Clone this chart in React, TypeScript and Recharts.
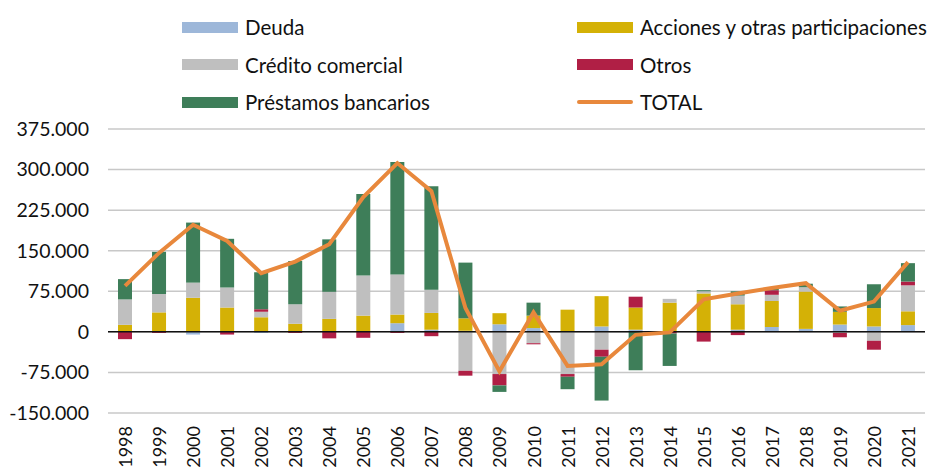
import React from 'react';
import {
  ComposedChart,
  Bar,
  Line,
  XAxis,
  YAxis,
  CartesianGrid,
  ReferenceLine,
  Legend,
} from 'recharts';

// Valores en miles
const years = [
  '1998', '1999', '2000', '2001', '2002', '2003', '2004', '2005', '2006', '2007', '2008', '2009',
  '2010', '2011', '2012', '2013', '2014', '2015', '2016', '2017', '2018', '2019', '2020', '2021',
];
const deuda = [0, 0, -5, 0, -2, 0, 0, 1, 16, 4, 2, 14, 7, 1, 10, 4, 1, 1, 4, 9, 5.5, 13.5, 10, 12.5];
const acciones = [13, 36, 63, 45, 27, 15, 24, 29, 16, 31, 23, 20.5, 23, 40, 56, 41, 53, 70, 47, 48, 69, 23.5, 34, 25.5];
const credito = [47, 34, 28, 37, 10, 36, 50, 74, 74, 43, -72, -78, -21, -78, -33, 0, 7, 4, 16, 11.5, 8, -2, -16.5, 48];
const otros = [-13.5, -2, 0, -5, 5, -2, -12, -11, -2, -8, -9, -21, -2, -5, -13, 20, -3, -18, -6, 8.5, 0, -8, -16.5, 7];
const prestamos = [37.5, 78, 111, 90, 68, 80, 97, 151, 208, 191, 103, -12, 24, -23, -81, -71, -60, 2, 8, 3, 6.5, 10, 44, 34];
const total = [85, 146, 198, 168, 108.5, 130, 162, 249, 312, 260, 44, -73, 36, -63, -60, -5.5, -1, 60, 71, 81, 90, 39, 56, 129];
const yTicks = [-150, -75, 0, 75, 150, 225, 300, 375];

const COLORS = {
  deuda: '#9DB7D9',
  acciones: '#D4B106',
  credito: '#BFBFBF',
  otros: '#B01F45',
  prestamos: '#3E7E59',
  total: '#E8883C',
};

const FONT = 'Lato, "Open Sans", sans-serif';

const data = years.map((year, i) => ({
  year,
  deuda: deuda[i],
  acciones: acciones[i],
  credito: credito[i],
  otros: otros[i],
  prestamos: prestamos[i],
  total: total[i],
}));

const formatTick = (v: number) => (v === 0 ? '0' : `${v}.000`);

// etiquetas del eje X giradas
const YearTick = ({ x, payload }: any) => (
  <text
    transform={`translate(${x},426) rotate(-90)`}
    textAnchor="end"
    dominantBaseline="central"
    fontSize={18}
    fontFamily={FONT}
    fill="#111"
  >
    {payload.value}
  </text>
);

const legendItems = [
  { name: 'Deuda', color: COLORS.deuda, left: 182, top: 27 },
  { name: 'Acciones y otras participaciones', color: COLORS.acciones, left: 577, top: 27 },
  { name: 'Crédito comercial', color: COLORS.credito, left: 182, top: 64.5 },
  { name: 'Otros', color: COLORS.otros, left: 577, top: 64.5 },
  { name: 'Préstamos bancarios', color: COLORS.prestamos, left: 182, top: 102 },
  { name: 'TOTAL', color: COLORS.total, left: 577, top: 102, line: true },
];

const CustomLegend = () => (
  <div style={{ position: 'relative', width: 938, height: 120, fontFamily: FONT }}>
    {legendItems.map((item) => (
      <div
        key={item.name}
        style={{
          position: 'absolute',
          left: item.left,
          top: item.top - 12,
          height: 24,
          display: 'flex',
          alignItems: 'center',
          whiteSpace: 'nowrap',
          fontSize: 20.5,
          color: '#111',
        }}
      >
        <span
          style={{
            display: 'inline-block',
            width: 56,
            height: item.line ? 4 : 11,
            borderRadius: item.line ? 2 : 0,
            background: item.color,
            marginRight: 7,
          }}
        />
        {item.name}
      </div>
    ))}
  </div>
);

export default function App() {
  return (
    <div style={{ position: 'absolute', left: 0, top: 0, width: 938, height: 470, background: '#fff' }}>
      <ComposedChart
        width={938}
        height={470}
        data={data}
        stackOffset="sign"
        margin={{ top: 129, right: 13, bottom: 0, left: 0 }}
        barCategoryGap={0}
      >
        <CartesianGrid vertical={false} stroke="#C8C8C8" strokeWidth={1.5} />
        <XAxis
          dataKey="year"
          axisLine={false}
          tickLine={false}
          height={57}
          interval={0}
          tick={<YearTick />}
        />
        <YAxis
          domain={[-150, 375]}
          ticks={yTicks}
          tickFormatter={formatTick}
          axisLine={false}
          tickLine={false}
          tickSize={0}
          tickMargin={19}
          width={108}
          interval={0}
          tick={{ fontSize: 19.5, fontFamily: FONT, fill: '#111' }}
        />
        <Legend
          layout="horizontal"
          verticalAlign="middle"
          align="center"
          content={<CustomLegend />}
          wrapperStyle={{ top: 0, left: 0, width: 938 }}
        />
        <Bar dataKey="deuda" name="Deuda" stackId="a" fill={COLORS.deuda} barSize={14} isAnimationActive={false} />
        <Bar dataKey="acciones" name="Acciones y otras participaciones" stackId="a" fill={COLORS.acciones} barSize={14} isAnimationActive={false} />
        <Bar dataKey="credito" name="Crédito comercial" stackId="a" fill={COLORS.credito} barSize={14} isAnimationActive={false} />
        <Bar dataKey="otros" name="Otros" stackId="a" fill={COLORS.otros} barSize={14} isAnimationActive={false} />
        <Bar dataKey="prestamos" name="Préstamos bancarios" stackId="a" fill={COLORS.prestamos} barSize={14} isAnimationActive={false} />
        <ReferenceLine y={0} stroke="#111" strokeWidth={1.5} />
        <Line
          dataKey="total"
          name="TOTAL"
          type="linear"
          stroke={COLORS.total}
          strokeWidth={4}
          dot={false}
          activeDot={false}
          isAnimationActive={false}
        />
      </ComposedChart>
    </div>
  );
}
